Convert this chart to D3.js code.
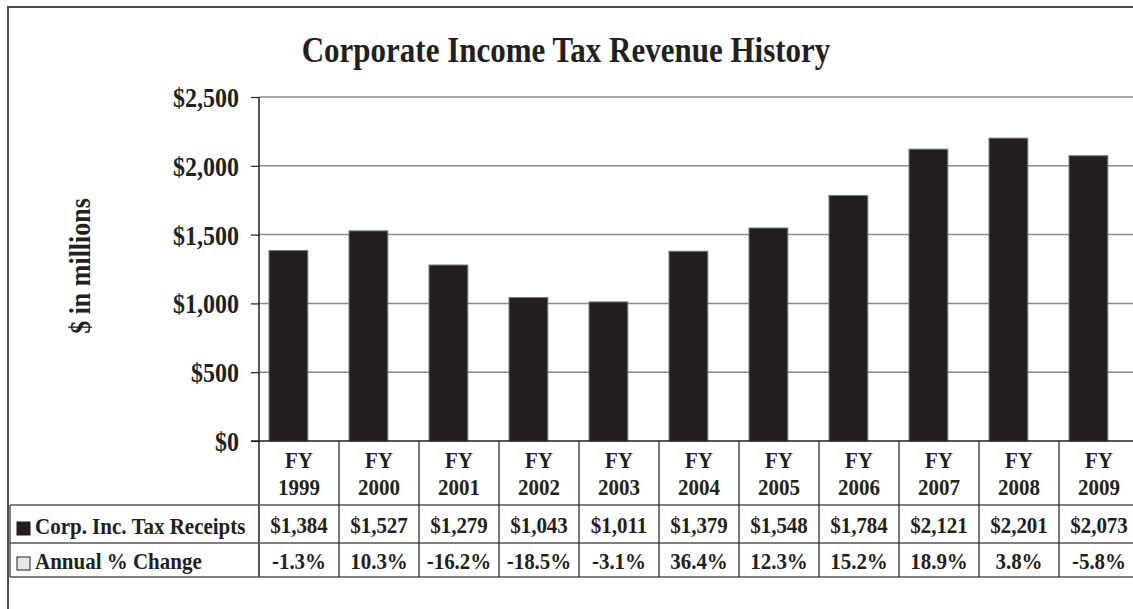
<!DOCTYPE html>
<html>
<head>
<meta charset="utf-8">
<script src="https://cdn.jsdelivr.net/npm/d3@7"></script>
<style>
  body { margin: 0; background: #fff; }
  svg text { font-family: "Liberation Serif", "Times New Roman", serif; font-weight: bold; fill: #231f20; }
</style>
</head>
<body>
<div id="chart"></div>
<script>
var years = ['1999', '2000', '2001', '2002', '2003', '2004', '2005', '2006', '2007', '2008', '2009'];
var receipts = [1384, 1527, 1279, 1043, 1011, 1379, 1548, 1784, 2121, 2201, 2073];
var pctChange = [-1.3, 10.3, -16.2, -18.5, -3.1, 36.4, 12.3, 15.2, 18.9, 3.8, -5.8];
var yTicks = [0, 500, 1000, 1500, 2000, 2500];
var seriesNames = ['Corp. Inc. Tax Receipts', 'Annual % Change'];

var width = 1133;
var height = 609;
var plotLeft = 259;
var plotRight = 1139;
var plotTop = 97;
var plotBottom = 441;
var rowLines = [505, 543, 577];
var legendLeft = 10;
var ink = '#231f20';
var stretch = 1.14; // source glyphs are a bit taller than wide

function at(px, py){
	return 'translate(' + px + ',' + py + ') scale(1,' + stretch + ')';
}

var svg = d3.select('#chart')
	.append('svg')
	.attr('width', width)
	.attr('height', height);

// outer frame (cut off at right and bottom)
svg.append('path')
	.attr('d', 'M8,' + height + 'V7H' + width)
	.attr('fill', 'none')
	.attr('stroke', '#4d4d4d')
	.attr('stroke-width', 2);

var x = d3.scaleBand()
	.domain(years)
	.range([plotLeft, plotRight])
	.padding(0);

var y = d3.scaleLinear()
	.domain([0, 2500])
	.range([plotBottom, plotTop]);

// gridlines
svg.selectAll('.grid')
	.data(yTicks.slice(1))
	.enter()
	.append('line')
	.attr('class', 'grid')
	.attr('x1', plotLeft)
	.attr('x2', width)
	.attr('y1', function(d){ return y(d); })
	.attr('y2', function(d){ return y(d); })
	.attr('stroke', '#8c8c8c')
	.attr('stroke-width', 1.5);

// y axis
var yAxis = d3.axisLeft(y)
	.tickValues(yTicks)
	.tickSize(8)
	.tickFormat(function(d){ return '$' + d3.format(',')(d); });

var gy = svg.append('g')
	.attr('transform', 'translate(' + plotLeft + ',0)')
	.call(yAxis);
gy.select('.domain').remove();
gy.selectAll('.tick line').attr('stroke', ink).attr('stroke-width', 1.2);
gy.selectAll('.tick text')
	.attr('x', -20)
	.attr('dy', '0.35em')
	.attr('transform', 'scale(1,' + stretch + ')')
	.style('font-size', '24px')
	.style('font-family', '"Liberation Serif", serif');

svg.append('line')
	.attr('x1', plotLeft).attr('x2', plotLeft)
	.attr('y1', plotTop).attr('y2', rowLines[2])
	.attr('stroke', ink).attr('stroke-width', 1.5);

// bars
svg.selectAll('.bar')
	.data(receipts)
	.enter()
	.append('rect')
	.attr('class', 'bar')
	.attr('x', function(d, i){ return x(years[i]) + x.bandwidth() * 0.125; })
	.attr('width', x.bandwidth() * 0.485)
	.attr('y', function(d){ return y(d); })
	.attr('height', function(d){ return y(0) - y(d); })
	.attr('fill', ink)
	.attr('stroke', '#777')
	.attr('stroke-width', 1);

// category axis line
svg.append('line')
	.attr('x1', plotLeft - 8).attr('x2', width)
	.attr('y1', plotBottom).attr('y2', plotBottom)
	.attr('stroke', ink).attr('stroke-width', 1.5);

// data table lines
svg.selectAll('.rowline')
	.data(rowLines)
	.enter()
	.append('line')
	.attr('class', 'rowline')
	.attr('x1', legendLeft).attr('x2', width)
	.attr('y1', function(d){ return d; })
	.attr('y2', function(d){ return d; })
	.attr('stroke', '#555')
	.attr('stroke-width', 1.5);

svg.append('line')
	.attr('x1', legendLeft).attr('x2', legendLeft)
	.attr('y1', rowLines[0]).attr('y2', rowLines[2])
	.attr('stroke', '#555').attr('stroke-width', 1.5);

svg.selectAll('.colline')
	.data(years.slice(1))
	.enter()
	.append('line')
	.attr('class', 'colline')
	.attr('x1', function(d){ return x(d); })
	.attr('x2', function(d){ return x(d); })
	.attr('y1', plotBottom).attr('y2', rowLines[2])
	.attr('stroke', ink).attr('stroke-width', 1.2);

// category labels
svg.selectAll('.cat')
	.data(years)
	.enter()
	.append('text')
	.attr('class', 'cat')
	.attr('text-anchor', 'middle')
	.attr('transform', function(d){ return at(x(d) + x.bandwidth() / 2, 468); })
	.style('font-size', '21px')
	.text('FY');

svg.selectAll('.yr')
	.data(years)
	.enter()
	.append('text')
	.attr('class', 'yr')
	.attr('text-anchor', 'middle')
	.attr('transform', function(d){ return at(x(d) + x.bandwidth() / 2, 495); })
	.style('font-size', '21px')
	.text(function(d){ return d; });

// table values
svg.selectAll('.val')
	.data(receipts)
	.enter()
	.append('text')
	.attr('class', 'val')
	.attr('text-anchor', 'middle')
	.attr('transform', function(d, i){ return at(x(years[i]) + x.bandwidth() / 2, 533); })
	.style('font-size', '21px')
	.text(function(d){ return '$' + d3.format(',')(d); });

svg.selectAll('.pct')
	.data(pctChange)
	.enter()
	.append('text')
	.attr('class', 'pct')
	.attr('text-anchor', 'middle')
	.attr('transform', function(d, i){ return at(x(years[i]) + x.bandwidth() / 2, 569); })
	.style('font-size', '21px')
	.text(function(d){ return d.toFixed(1) + '%'; });

// legend keys
var legendFill = [ink, '#e6e6e6'];
var legendY = [522, 557];
var legend = svg.selectAll('.legend')
	.data(seriesNames)
	.enter()
	.append('g')
	.attr('class', 'legend')
	.attr('transform', function(d, i){ return 'translate(17,' + legendY[i] + ')'; });

legend.append('rect')
	.attr('width', 13)
	.attr('height', 13)
	.attr('fill', function(d, i){ return legendFill[i]; })
	.attr('stroke', ink)
	.attr('stroke-width', 1);

legend.append('text')
	.attr('transform', at(18, 12))
	.style('font-size', '21px')
	.text(function(d){ return d; });

// title
svg.append('text')
	.attr('transform', at(566, 62))
	.attr('text-anchor', 'middle')
	.style('font-size', '31px')
	.text('Corporate Income Tax Revenue History');

// y axis title
svg.append('text')
	.attr('transform', 'translate(90,266) rotate(-90) scale(1,' + stretch + ')')
	.attr('text-anchor', 'middle')
	.style('font-size', '26px')
	.text('$ in millions');
</script>
</body>
</html>
